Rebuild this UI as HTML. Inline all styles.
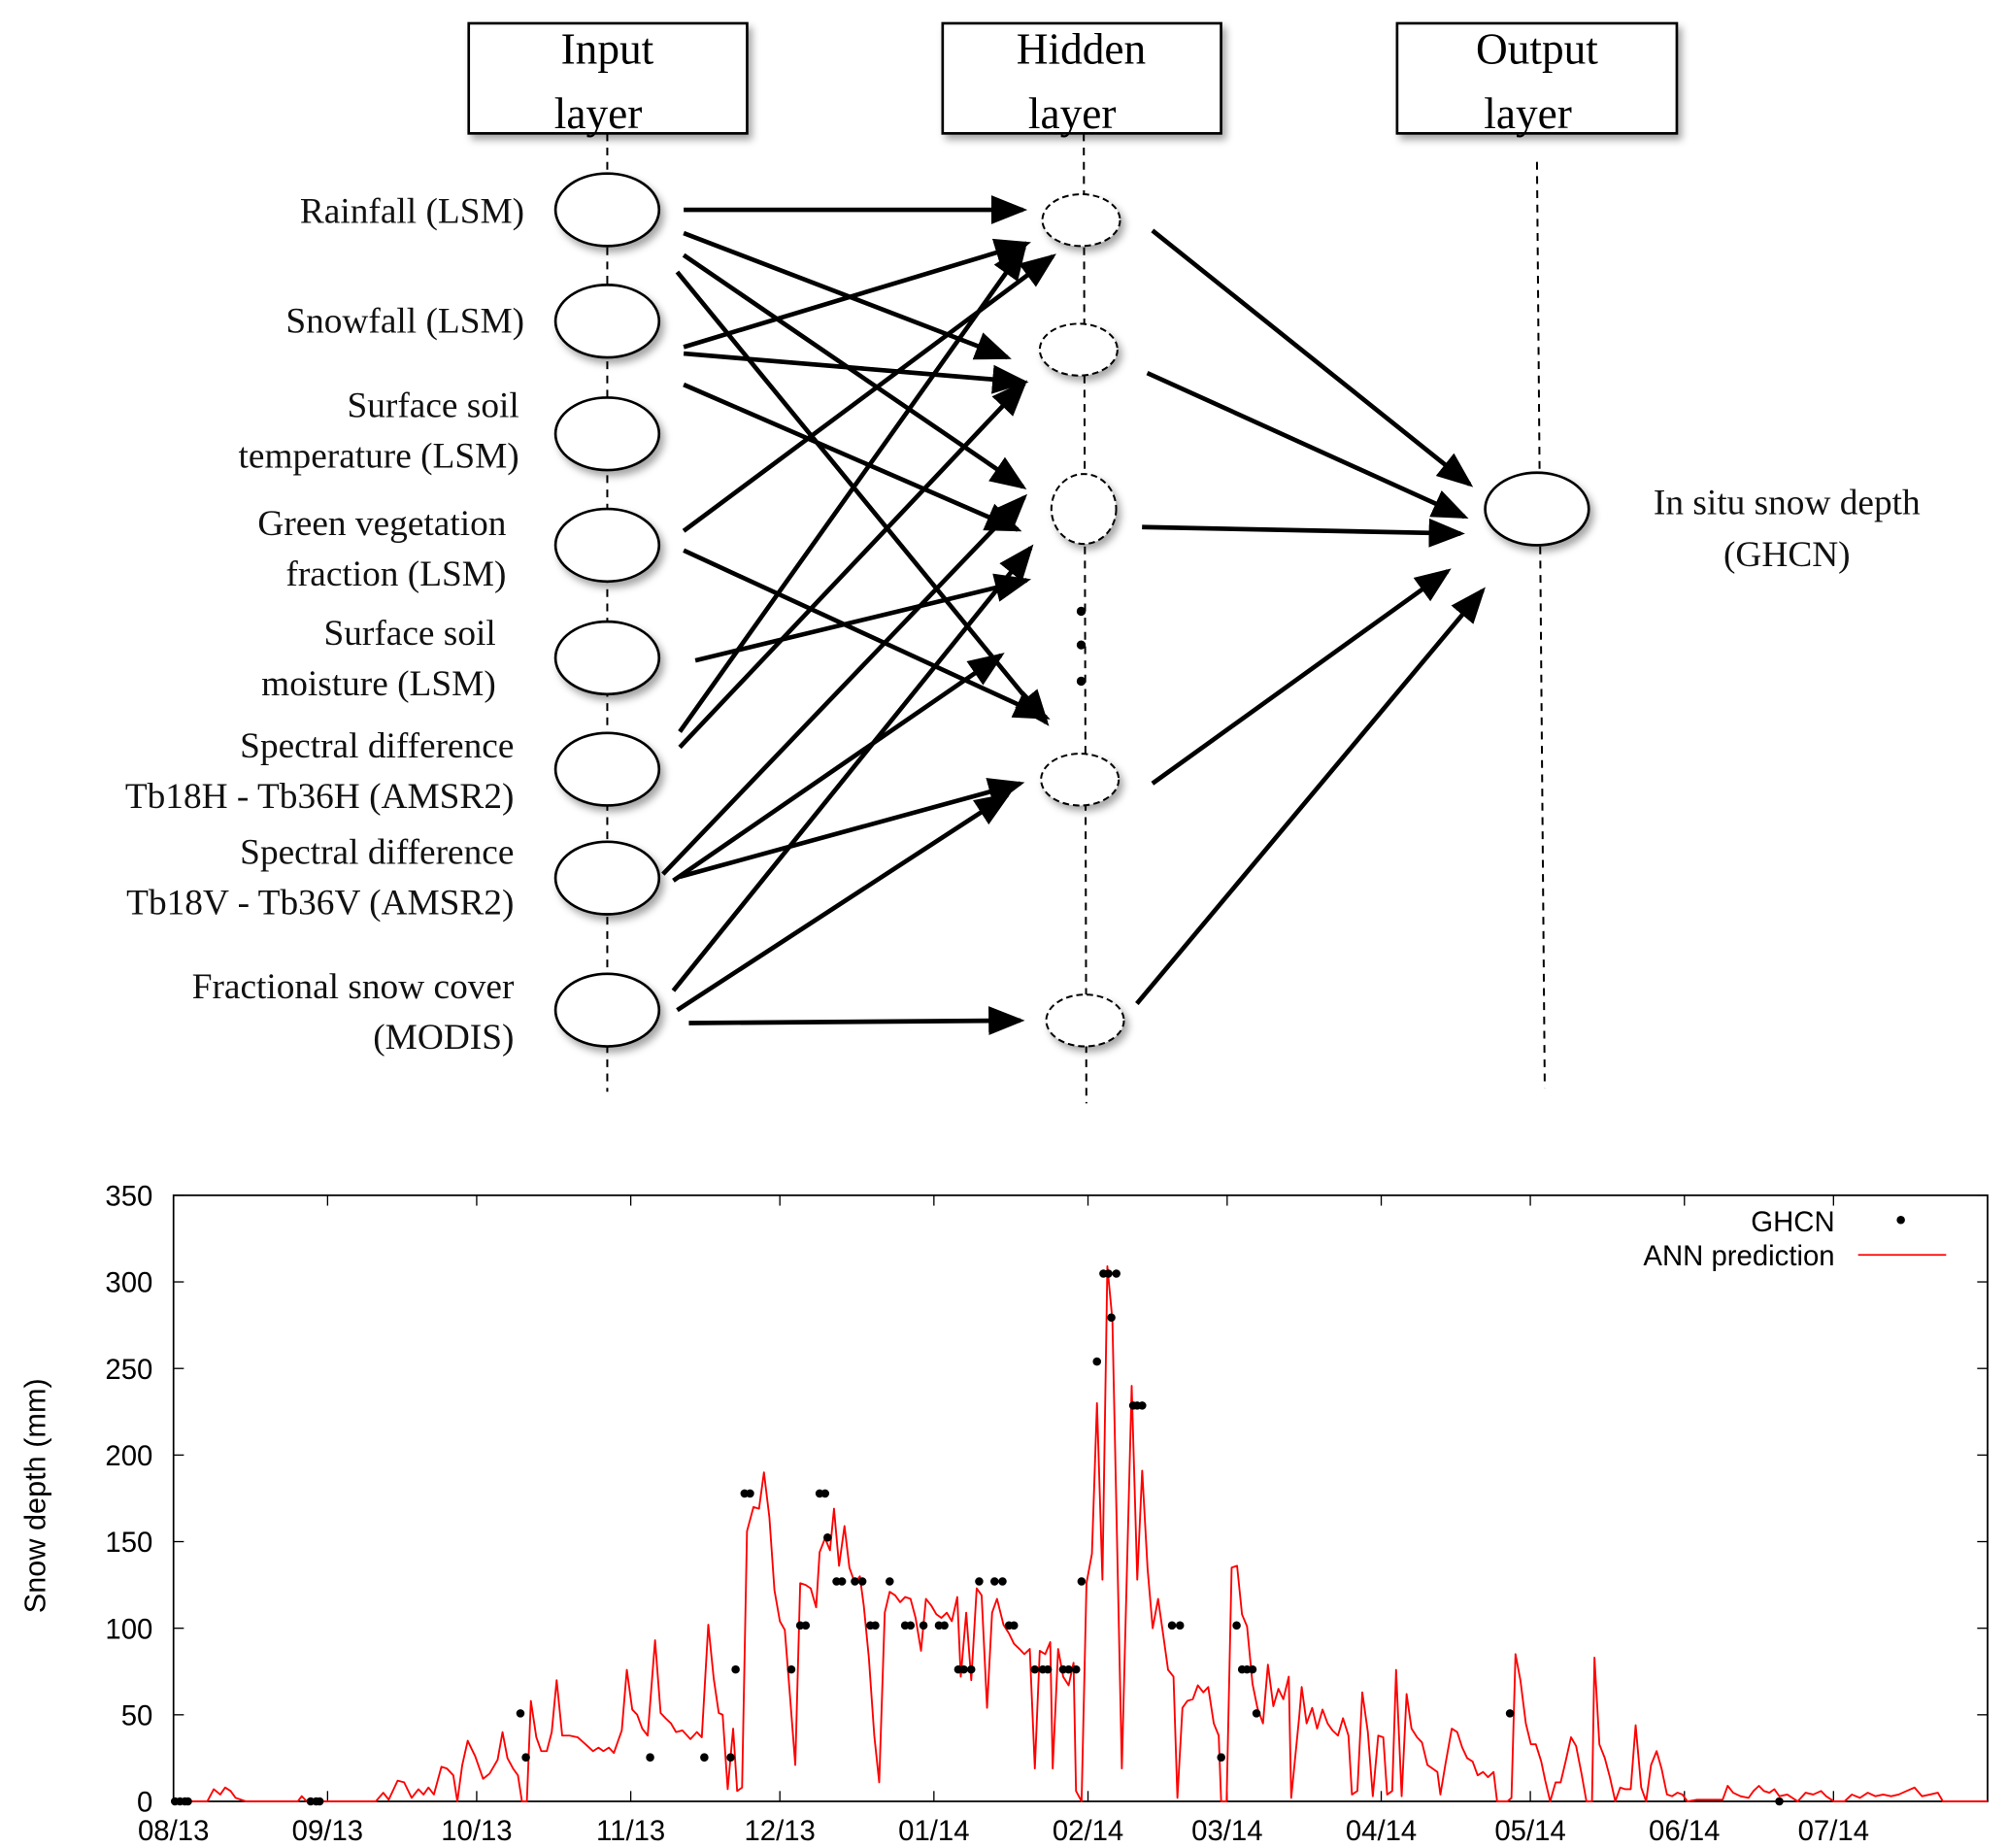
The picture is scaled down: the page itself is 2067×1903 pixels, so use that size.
<!DOCTYPE html>
<html><head><meta charset="utf-8"><style>
html,body{margin:0;padding:0;background:#fff}
svg{display:block}
.serif{font-family:"Liberation Serif",serif}
.sans{font-family:"Liberation Sans",sans-serif}
</style></head><body>
<svg id="root" width="2067" height="1903" viewBox="0 0 1550 1427" preserveAspectRatio="none" xmlns="http://www.w3.org/2000/svg">
<defs>
<marker id="ah" markerWidth="8" markerHeight="8" refX="7" refY="4" orient="auto" markerUnits="strokeWidth"><path d="M0,0.8 L8,4 L0,7.2 Z" fill="#000"/></marker>
<filter id="sh" x="-20%" y="-20%" width="150%" height="150%"><feDropShadow dx="3" dy="4" stdDeviation="3" flood-color="#000" flood-opacity="0.35"/></filter>
</defs>
<g>
<g stroke="#000" stroke-width="1.5" stroke-dasharray="6,5" fill="none">
<line x1="469" y1="103" x2="469" y2="843"/><line x1="837" y1="103" x2="839" y2="852"/><line x1="1187" y1="125" x2="1193" y2="840"/>
</g>
<g class="serif" font-size="34" text-anchor="middle">
<g><rect x="362" y="18" width="215" height="85" fill="#fff" stroke="#000" stroke-width="2" filter="url(#sh)"/><text x="469" y="49">Input</text><text x="462" y="99">layer</text></g>
<g><rect x="728" y="18" width="215" height="85" fill="#fff" stroke="#000" stroke-width="2" filter="url(#sh)"/><text x="835" y="49">Hidden</text><text x="828" y="99">layer</text></g>
<g><rect x="1079" y="18" width="216" height="85" fill="#fff" stroke="#000" stroke-width="2" filter="url(#sh)"/><text x="1187" y="49">Output</text><text x="1180" y="99">layer</text></g>
</g>
<g fill="#fff" stroke="#000" stroke-width="2" filter="url(#sh)">
<ellipse cx="469" cy="162" rx="40" ry="28"/><ellipse cx="469" cy="248" rx="40" ry="28"/><ellipse cx="469" cy="335" rx="40" ry="28"/><ellipse cx="469" cy="421" rx="40" ry="28"/><ellipse cx="469" cy="508" rx="40" ry="28"/><ellipse cx="469" cy="594" rx="40" ry="28"/><ellipse cx="469" cy="678" rx="40" ry="28"/><ellipse cx="469" cy="780" rx="40" ry="28"/>
</g>
<g fill="#fff" stroke="#000" stroke-width="1.5" stroke-dasharray="5,3" filter="url(#sh)">
<ellipse cx="835" cy="170" rx="30" ry="20"/><ellipse cx="833" cy="270" rx="30" ry="20"/><ellipse cx="837" cy="393" rx="25" ry="27"/><ellipse cx="834" cy="602" rx="30" ry="20"/><ellipse cx="838" cy="788" rx="30" ry="20"/>
</g>
<g fill="#000"><circle cx="835" cy="472" r="3.5"/><circle cx="835" cy="498" r="3.5"/><circle cx="835" cy="526" r="3.5"/></g>
<ellipse cx="1187" cy="393" rx="40" ry="28" fill="#fff" stroke="#000" stroke-width="2" filter="url(#sh)"/>
<g stroke="#000" stroke-width="3.5" marker-end="url(#ah)">
<line x1="528" y1="162" x2="790" y2="162"/><line x1="528" y1="180" x2="778" y2="276"/><line x1="528" y1="197" x2="790" y2="376"/><line x1="523" y1="210" x2="808" y2="558"/>
<line x1="528" y1="268" x2="793" y2="188"/><line x1="528" y1="273" x2="791" y2="295"/><line x1="528" y1="297" x2="786" y2="409"/>
<line x1="528" y1="410" x2="813" y2="198"/><line x1="528" y1="425" x2="808" y2="554"/><line x1="537" y1="510" x2="793" y2="448"/>
<line x1="525" y1="565" x2="791" y2="191"/><line x1="525" y1="577" x2="791" y2="296"/><line x1="512" y1="675" x2="791" y2="384"/><line x1="520" y1="680" x2="773" y2="506"/><line x1="525" y1="677" x2="788" y2="605"/>
<line x1="520" y1="765" x2="796" y2="423"/><line x1="523" y1="780" x2="778" y2="614"/><line x1="532" y1="790" x2="788" y2="788"/>
<line x1="890" y1="178" x2="1135" y2="374"/><line x1="886" y1="288" x2="1131" y2="399"/><line x1="882" y1="407" x2="1128" y2="412"/><line x1="890" y1="605" x2="1118" y2="441"/><line x1="878" y1="775" x2="1145" y2="456"/>
</g>
<g class="serif" font-size="28" text-anchor="end" fill="#111">
<text x="405" y="172">Rainfall (LSM)</text><text x="405" y="257">Snowfall (LSM)</text>
<text x="401" y="322">Surface soil</text><text x="401" y="361">temperature (LSM)</text>
<text x="391" y="413">Green vegetation</text><text x="391" y="452">fraction (LSM)</text>
<text x="383" y="498">Surface soil</text><text x="383" y="537">moisture (LSM)</text>
<text x="397" y="585">Spectral difference</text><text x="397" y="624">Tb18H - Tb36H (AMSR2)</text>
<text x="397" y="667">Spectral difference</text><text x="397" y="706">Tb18V - Tb36V (AMSR2)</text>
<text x="397" y="771">Fractional snow cover</text><text x="397" y="810">(MODIS)</text>
</g>
<g class="serif" font-size="28" text-anchor="middle" fill="#111"><text x="1380" y="397">In situ snow depth</text><text x="1380" y="437">(GHCN)</text></g>
</g>
<g id="chart"></g>
</svg>
<script>
const annDays=[0,6.8,8.1,9.4,10.4,11.5,12.5,14.6,25,25.8,26.8,40.7,42.2,43.3,45.1,46.4,47.9,49.3,50.3,51.3,52.4,53.9,55,56.3,57.1,58.1,59.2,60.7,62.3,63.6,65.2,66.2,67.2,68.3,69.3,70.1,71.1,71.9,73,74,75.1,76.1,77.1,78.2,79.7,81.3,82.9,84.4,85.5,86.5,87.6,88.6,90.2,91.2,92.3,93.3,94.3,95.4,96.9,98,99,100.1,101.1,102.4,104,105.3,106.3,107.6,108.7,109.7,110.5,111.5,112.6,113.4,114.4,115.4,116.7,117.8,118.8,119.9,120.9,122,123,124,125.1,126.1,127.2,128.2,129.3,130,131.1,132.1,132.9,133.9,135,136,137.1,138.1,138.9,139.9,141,142,143.1,144.1,145.2,146.2,147.2,148.3,149.3,150.4,151.4,152.5,153.5,154.5,155.6,156.6,157.7,158.4,159.5,160.5,161.6,162.6,163.7,164.7,165.7,167,168.1,169.1,170.2,171.2,172.3,173.3,174.3,175.4,176.4,176.9,178,179,180.1,181.1,181.6,182.7,183.7,184.8,185.8,186.9,187.9,188.9,190.8,192.8,193.9,194.9,196,197,198.1,199.1,200.1,201.2,202,203,204,205.1,206.1,207.2,208.2,209.3,210.3,210.8,211.9,212.9,214,215,216,217.1,218.1,219.2,220.2,221.3,222.3,223.3,224.4,224.9,226.5,227,228,229.1,230.1,231.2,232.2,233.2,234.3,235.3,236.4,237.1,238.2,239.2,240.3,241.3,242.4,243.4,244.2,245.2,246,247.1,248.1,249.1,250.2,251.2,252.3,253.3,254.3,254.9,255.9,257.2,258.3,259.3,260.3,261.4,262.4,263.5,264.5,265.6,266.3,268.4,269.2,270,271,272.1,273.1,274.1,275.2,276,277,278.1,279.1,280.1,281.2,282.2,283.3,284.3,285.4,285.9,286.9,288,289,290.1,291.1,292.1,293.2,294.2,295.3,296.3,297.3,298.4,299.4,300.5,301.5,302.6,303.6,304.6,306.5,309.1,311.7,312.7,313.8,315.3,316.9,317.9,319,320,321.1,322.1,323.1,324.7,326.8,328.4,329.9,331.5,332.5,334.1,336.2,337.7,339.3,340.9,342.4,344,345.6,347.1,348.7,350.3,351.8,353.4,355,356,365];
const annValues=[0,0,7,4,8,6,2,0,0,3,0,0,5,1,12,11,2,7,4,8,4,20,19,15,0,21,35,26,13,16,24,40,25,19,15,0,0,58,37,29,29,40,70,38,38,37,33,29,31,29,31,28,41,76,53,50,42,38,93,51,48,45,40,41,36,40,37,102,71,51,50,7,42,6,8,156,170,169,190,164,122,104,99,62,21,126,125,123,112,144,152,145,169,136,159,135,126,130,113,83,38,11,109,121,119,115,118,117,106,87,117,113,108,106,109,104,118,72,109,70,123,119,54,109,117,102,97,91,88,85,88,19,87,85,92,19,88,72,67,80,6,0,126,143,230,128,309,278,19,240,128,191,134,100,117,97,76,72,2,54,58,59,67,63,66,45,38,0,0,135,136,108,101,68,54,45,79,55,65,59,72,2,49,66,45,54,42,53,45,41,38,48,38,4,6,63,40,3,38,37,4,6,76,3,62,42,37,34,21,19,17,4,21,42,40,31,25,23,15,17,14,17,0,0,2,85,70,45,33,33,23,12,0,11,11,23,37,32,16,0,0,83,33,25,14,0,8,7,7,44,8,0,21,29,19,4,3,5,4,0,1,1,1,9,5,3,2,6,9,6,5,7,3,4,0,5,4,6,3,0,0,4,2,5,3,4,3,4,6,8,3,4,5,0,0];
const ghcnDays=[0.3,1.3,2.3,2.9,27.6,28.7,29.4,69.8,70.9,95.9,106.8,112.1,113.1,114.9,116,124.3,126.1,127.2,130,131.1,131.6,133.4,134.5,137.1,138.6,140.2,141.2,144.1,147.2,148.3,150.9,154,155.1,157.9,159,160.5,162.1,165.2,166.8,168.1,169.1,173.3,174.9,175.9,179,180.1,181.6,182.7,185.8,187.1,188.1,188.7,189.7,193.1,193.9,194.9,200.9,202.5,210.8,213.9,215,216,217.1,217.9,268.9,323.1];
const ghcnValues=[0,0,0,0,0,0,0,50.8,25.4,25.4,25.4,25.4,76.2,177.8,177.8,76.2,101.6,101.6,177.8,177.8,152.4,127,127,127,127,101.6,101.6,127,101.6,101.6,101.6,101.6,101.6,76.2,76.2,76.2,127,127,127,101.6,101.6,76.2,76.2,76.2,76.2,76.2,76.2,127,254,304.8,304.8,279.4,304.8,228.6,228.6,228.6,101.6,101.6,25.4,101.6,76.2,76.2,76.2,50.8,50.8,0];
const yTicks=[0,50,100,150,200,250,300,350];
const xTickDays=[0,31,61,92,122,153,184,212,243,273,304,334];
const xTickLabels=["08/13","09/13","10/13","11/13","12/13","01/14","02/14","03/14","04/14","05/14","06/14","07/14"];

const NS="http://www.w3.org/2000/svg";
const L=134,R=1535,T=923,B=1391,DMAX=365,VMAX=350;
const xs=d=>L+(R-L)*d/DMAX;
const ys=v=>B-(B-T)*v/VMAX;
const chart=document.getElementById('chart');
function mk(tag,attrs,parent){const e=document.createElementNS(NS,tag);for(const k in attrs)e.setAttribute(k,attrs[k]);(parent||chart).appendChild(e);return e;}

const frame=mk('rect',{x:L,y:T,width:R-L,height:B-T,fill:'none',stroke:'#000','stroke-width':1.3});



yTicks.forEach(v=>{
  const y=ys(v);
  const t1=mk('line',{x1:L,x2:L+8,y1:y,y2:y,stroke:'#000','stroke-width':1});
  
  
  const t2=mk('line',{x1:R-8,x2:R,y1:y,y2:y,stroke:'#000','stroke-width':1});
  
  
  const lb=mk('text',{x:118,y:y+8,'text-anchor':'end','font-size':22,class:'sans'});
  lb.textContent=v;
  
  
});
xTickDays.forEach((d,i)=>{
  const x=xs(d);
  const t1=mk('line',{x1:x,x2:x,y1:B,y2:B-8,stroke:'#000','stroke-width':1});
  
  
  const t2=mk('line',{x1:x,x2:x,y1:T,y2:T+8,stroke:'#000','stroke-width':1});
  
  
  const lb=mk('text',{x:x,y:1421,'text-anchor':'middle','font-size':22,class:'sans'});
  lb.textContent=xTickLabels[i];
  
  
});
const yt=mk('text',{x:0,y:0,transform:'translate(35,1155) rotate(-90)','text-anchor':'middle','font-size':23,class:'sans'});
yt.textContent='Snow depth (mm)';



const line=mk('polyline',{points:annDays.map((d,i)=>xs(d).toFixed(1)+','+ys(annValues[i]).toFixed(1)).join(' '),fill:'none',stroke:'#ff0000','stroke-width':1.4,'stroke-linejoin':'round'});



ghcnDays.forEach((d,i)=>{
  const c=mk('circle',{cx:xs(d),cy:ys(ghcnValues[i]),r:3.2,fill:'#000'});
  
  
});

const g1=mk('text',{x:1417,y:951,'text-anchor':'end','font-size':22,class:'sans'});
g1.textContent='GHCN';


const gd=mk('circle',{cx:1468,cy:942,r:3.2,fill:'#000'});


const g2=mk('text',{x:1417,y:977,'text-anchor':'end','font-size':22,class:'sans'});
g2.textContent='ANN prediction';


const gl=mk('line',{x1:1435,x2:1503,y1:969,y2:969,stroke:'#ff0000','stroke-width':1.3});


</script>
</body></html>
